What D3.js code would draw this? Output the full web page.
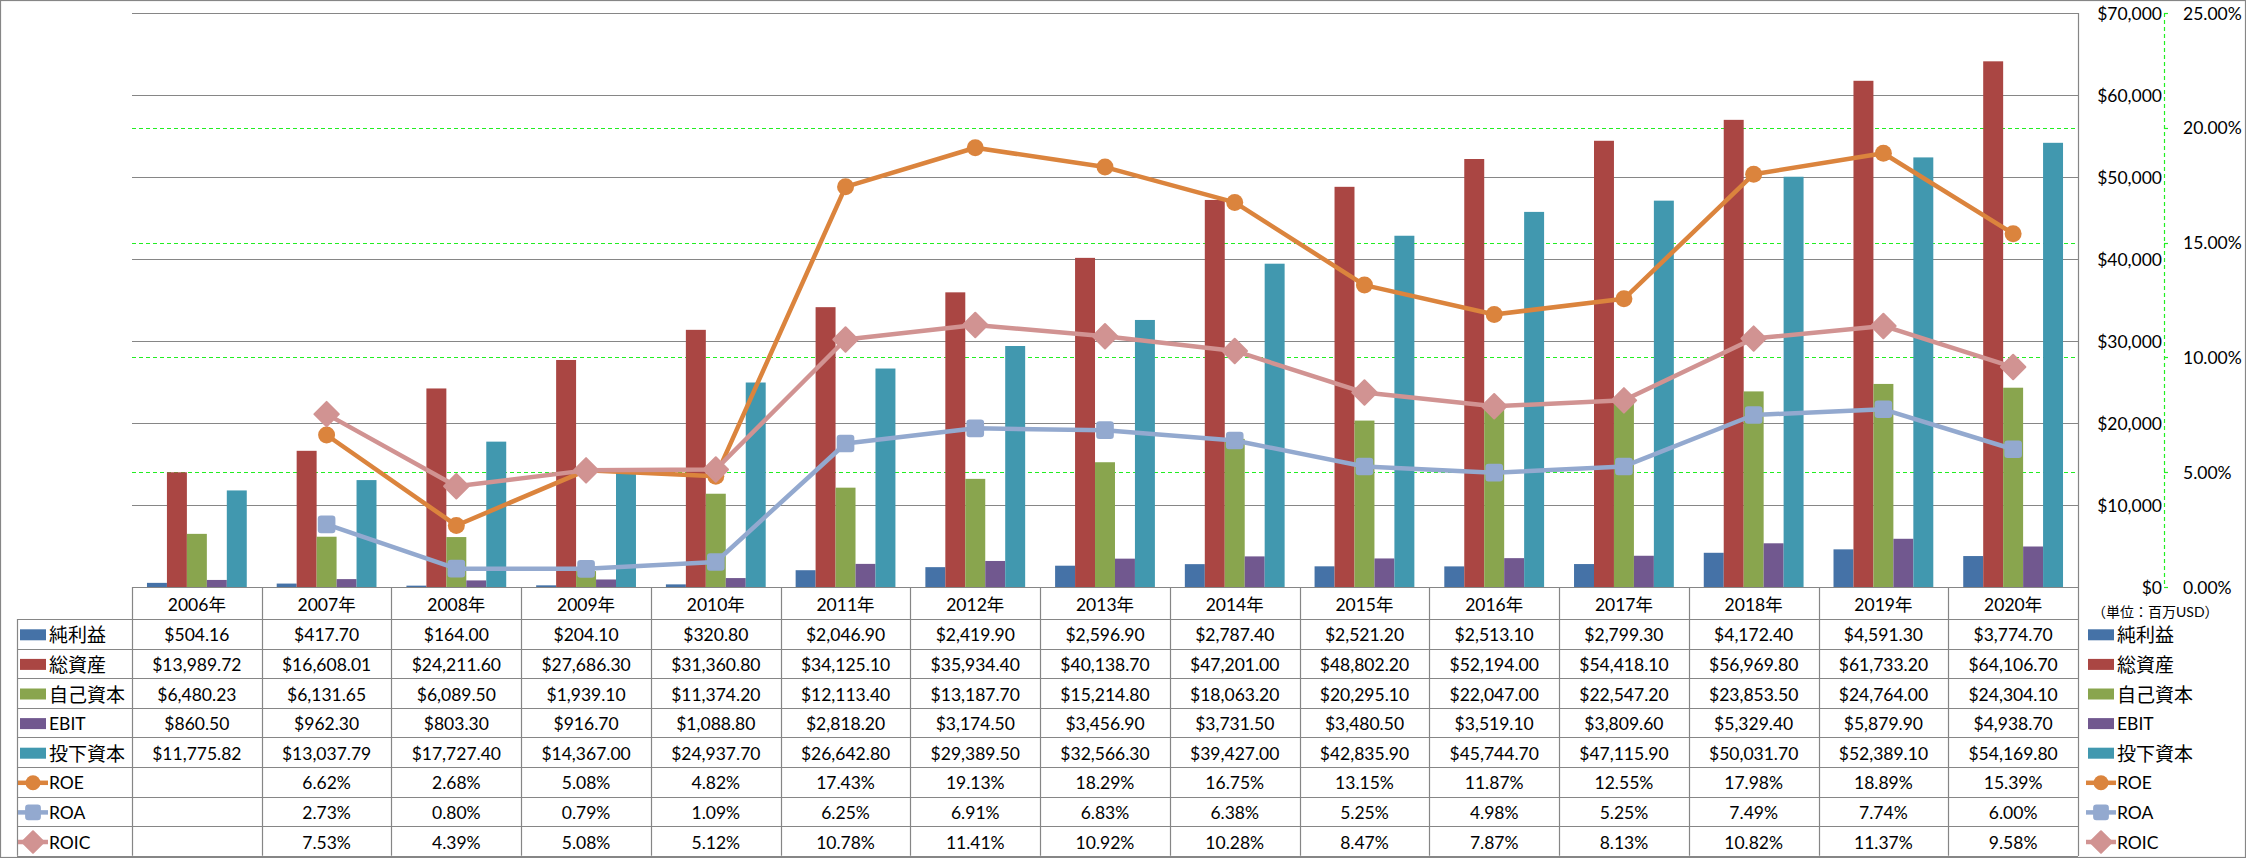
<!DOCTYPE html>
<html>
<head>
<meta charset="utf-8">
<script src="https://cdn.jsdelivr.net/npm/d3@7"></script>
<style>
html,body{margin:0;padding:0;background:#fff;}
svg{display:block;}
text{font-family:Lato,"Noto Sans CJK JP",sans-serif;fill:#000;}
</style>
</head>
<body>
<svg id="chart" width="2246" height="858"></svg>
<script>
// ---- data ----
const years = ["2006年","2007年","2008年","2009年","2010年","2011年","2012年","2013年","2014年","2015年","2016年","2017年","2018年","2019年","2020年"];
const netIncome   = [504.16,417.70,164.00,204.10,320.80,2046.90,2419.90,2596.90,2787.40,2521.20,2513.10,2799.30,4172.40,4591.30,3774.70];
const totalAssets = [13989.72,16608.01,24211.60,27686.30,31360.80,34125.10,35934.40,40138.70,47201.00,48802.20,52194.00,54418.10,56969.80,61733.20,64106.70];
const equity      = [6480.23,6131.65,6089.50,1939.10,11374.20,12113.40,13187.70,15214.80,18063.20,20295.10,22047.00,22547.20,23853.50,24764.00,24304.10];
const ebit        = [860.50,962.30,803.30,916.70,1088.80,2818.20,3174.50,3456.90,3731.50,3480.50,3519.10,3809.60,5329.40,5879.90,4938.70];
const investedCap = [11775.82,13037.79,17727.40,14367.00,24937.70,26642.80,29389.50,32566.30,39427.00,42835.90,45744.70,47115.90,50031.70,52389.10,54169.80];
const roe  = [null,6.62,2.68,5.08,4.82,17.43,19.13,18.29,16.75,13.15,11.87,12.55,17.98,18.89,15.39];
const roa  = [null,2.73,0.80,0.79,1.09,6.25,6.91,6.83,6.38,5.25,4.98,5.25,7.49,7.74,6.00];
const roic = [null,7.53,4.39,5.08,5.12,10.78,11.41,10.92,10.28,8.47,7.87,8.13,10.82,11.37,9.58];
const leftTicks  = [0,10000,20000,30000,40000,50000,60000,70000];
const rightTicks = [0,5,10,15,20,25];
const unitLabel = "（単位：百万USD）";

const barSeries = [
  {name:"純利益", values:netIncome, color:"#4572A7"},
  {name:"総資産", values:totalAssets, color:"#AA4643"},
  {name:"自己資本", values:equity, color:"#89A54E"},
  {name:"EBIT", values:ebit, color:"#71588F"},
  {name:"投下資本", values:investedCap, color:"#4198AF"}
];
const lineSeries = [
  {name:"ROE", values:roe, color:"#DB843D", marker:"circle"},
  {name:"ROA", values:roa, color:"#93A9CF", marker:"square"},
  {name:"ROIC", values:roic, color:"#D19392", marker:"diamond"}
];

// ---- layout ----
const svg = d3.select("#chart");
const L = 132, R = 2078, T = 13, B = 587;
const tableLeft = 17, headerBottom = 619, rowH = 29.6;
const gray = "#868686";

const x = d3.scaleBand().domain(years).range([L, R]).paddingInner(0).paddingOuter(0);
const xb = d3.scaleBand().domain(barSeries.map(s=>s.name)).range([0, x.bandwidth()]).paddingInner(0).paddingOuter(0.75);
const y = d3.scaleLinear().domain([0,70000]).range([B, T]);
const y2 = d3.scaleLinear().domain([0,25]).range([B, T]);

// outer border
svg.append("rect").attr("x",0.5).attr("y",0.5).attr("width",2245).attr("height",857)
  .attr("fill","none").attr("stroke",gray).attr("stroke-width",1.2);

// secondary gridlines (green dashed)
svg.append("g").selectAll("line").data(rightTicks.filter(t=>t>0 && t<25)).join("line")
  .attr("x1",L).attr("x2",R).attr("y1",d=>Math.round(y2(d))+0.5).attr("y2",d=>Math.round(y2(d))+0.5)
  .attr("stroke","#22ee22").attr("stroke-width",1.2).attr("stroke-dasharray","4,3");

// primary gridlines
svg.append("g").selectAll("line").data(leftTicks.filter(t=>t>0)).join("line")
  .attr("x1",L).attr("x2",R).attr("y1",d=>Math.round(y(d))+0.5).attr("y2",d=>Math.round(y(d))+0.5)
  .attr("stroke",gray).attr("stroke-width",1.2);

// bars
const bg = svg.append("g");
barSeries.forEach(s=>{
  bg.append("g").selectAll("rect").data(s.values).join("rect")
    .attr("x",(d,i)=>x(years[i]) + xb(s.name))
    .attr("width",xb.bandwidth())
    .attr("y",d=>y(d))
    .attr("height",d=>B - y(d))
    .attr("fill",s.color);
});

// marker drawer
function marker(g, type, cx, cy, color, size){
  if(type==="circle"){
    g.append("circle").attr("cx",cx).attr("cy",cy).attr("r",size*0.5).attr("fill",color);
  } else if(type==="square"){
    const s=size*0.95;
    g.append("rect").attr("x",cx-s/2).attr("y",cy-s/2).attr("width",s).attr("height",s)
      .attr("rx",2.5).attr("fill",color).attr("stroke",color).attr("stroke-width",1.5);
  } else {
    const h=size*0.72;
    g.append("path").attr("d",`M${cx},${cy-h}L${cx+h},${cy}L${cx},${cy+h}L${cx-h},${cy}Z`)
      .attr("fill",color).attr("stroke",color).attr("stroke-width",2).attr("stroke-linejoin","round");
  }
}

// lines
const lg = svg.append("g");
lineSeries.forEach(s=>{
  const pts = s.values.map((v,i)=>({v,i}));
  const line = d3.line().defined(d=>d.v!=null)
    .x(d=>x(years[d.i])+x.bandwidth()/2).y(d=>y2(d.v));
  lg.append("path").datum(pts).attr("d",line).attr("fill","none")
    .attr("stroke",s.color).attr("stroke-width",4.5).attr("stroke-linejoin","round");
  const mg = lg.append("g");
  pts.filter(d=>d.v!=null).forEach(d=>{
    marker(mg, s.marker, x(years[d.i])+x.bandwidth()/2, y2(d.v), s.color, 17);
  });
});

// right axis line (primary) and secondary green dashed axis
svg.append("line").attr("x1",R+0.5).attr("x2",R+0.5).attr("y1",T).attr("y2",856)
  .attr("stroke",gray).attr("stroke-width",1.2);
const axX2 = 2164;
svg.append("line").attr("x1",axX2+0.5).attr("x2",axX2+0.5).attr("y1",T).attr("y2",B)
  .attr("stroke","#22ee22").attr("stroke-width",1.2).attr("stroke-dasharray","4,3");
svg.append("g").selectAll("line").data(rightTicks).join("line")
  .attr("x1",axX2).attr("x2",axX2+4).attr("y1",d=>Math.round(y2(d))+0.5).attr("y2",d=>Math.round(y2(d))+0.5)
  .attr("stroke","#22ee22").attr("stroke-width",1.2);

// axis labels
const fmtDollar = d3.format("$,");
svg.append("g").selectAll("text").data(leftTicks).join("text")
  .attr("x",2162).attr("y",d=>y(d)).attr("text-anchor","end").attr("dominant-baseline","central")
  .attr("font-size",17.5).text(d=>fmtDollar(d));
svg.append("g").selectAll("text").data(rightTicks).join("text")
  .attr("x",2183).attr("y",d=>y2(d)).attr("text-anchor","start").attr("dominant-baseline","central")
  .attr("font-size",17.5).text(d=>d3.format(".2f")(d)+"%");
svg.append("text").attr("x",2092).attr("y",611).attr("dominant-baseline","central")
  .attr("font-size",14).attr("font-family","'Noto Sans CJK JP',sans-serif").text(unitLabel);

// ---- data table ----
const tg = svg.append("g");
const rows = [...barSeries.map(s=>({...s,kind:"bar"})), ...lineSeries.map(s=>({...s,kind:"line"}))];
const rowTop = i => headerBottom + i*rowH;
const tableBottom = rowTop(rows.length);

// horizontal lines
tg.append("line").attr("x1",L).attr("x2",R).attr("y1",B+0.5).attr("y2",B+0.5).attr("stroke",gray).attr("stroke-width",1.2);
d3.range(rows.length+1).forEach(i=>{
  const yy = Math.round(rowTop(i))+0.5;
  tg.append("line").attr("x1",tableLeft).attr("x2",R).attr("y1",yy).attr("y2",yy).attr("stroke",gray).attr("stroke-width",1.2);
});
// vertical lines
tg.append("line").attr("x1",tableLeft+0.5).attr("x2",tableLeft+0.5).attr("y1",headerBottom).attr("y2",tableBottom).attr("stroke",gray).attr("stroke-width",1.2);
years.forEach(yr=>{
  const xx = Math.round(x(yr))+0.5;
  tg.append("line").attr("x1",xx).attr("x2",xx).attr("y1",B).attr("y2",tableBottom).attr("stroke",gray).attr("stroke-width",1.2);
});

// header
tg.selectAll("text.yr").data(years).join("text").attr("class","yr")
  .attr("x",d=>x(d)+x.bandwidth()/2).attr("y",(B+headerBottom)/2+1)
  .attr("text-anchor","middle").attr("dominant-baseline","central").attr("font-size",17.5).text(d=>d);

const fmtMoney = d3.format("$,.2f");
const isCJK = s => /[\u3000-\u9fff]/.test(s);

rows.forEach((r,i)=>{
  const cy = rowTop(i) + rowH/2 + 1;
  // values
  r.values.forEach((v,j)=>{
    if(v==null) return;
    tg.append("text").attr("x",x(years[j])+x.bandwidth()/2).attr("y",cy)
      .attr("text-anchor","middle").attr("dominant-baseline","central").attr("font-size",17.5)
      .text(r.kind==="bar" ? fmtMoney(v) : d3.format(".2f")(v)+"%");
  });
  // legend keys (left and right)
  [{k0:20,k1:46,tx:49},{k0:2088,k1:2114,tx:2117}].forEach(pos=>{
    if(r.kind==="bar"){
      tg.append("rect").attr("x",pos.k0).attr("y",cy-5.5).attr("width",pos.k1-pos.k0).attr("height",11).attr("fill",r.color);
    } else {
      tg.append("line").attr("x1",pos.k0-2).attr("x2",pos.k1+2).attr("y1",cy).attr("y2",cy)
        .attr("stroke",r.color).attr("stroke-width",4.5);
      marker(tg, r.marker, (pos.k0+pos.k1)/2, cy, r.color, 15);
    }
    tg.append("text").attr("x",pos.tx).attr("y",cy).attr("dominant-baseline","central")
      .attr("font-size",isCJK(r.name)?19:17.5).text(r.name);
  });
});
</script>
</body>
</html>
